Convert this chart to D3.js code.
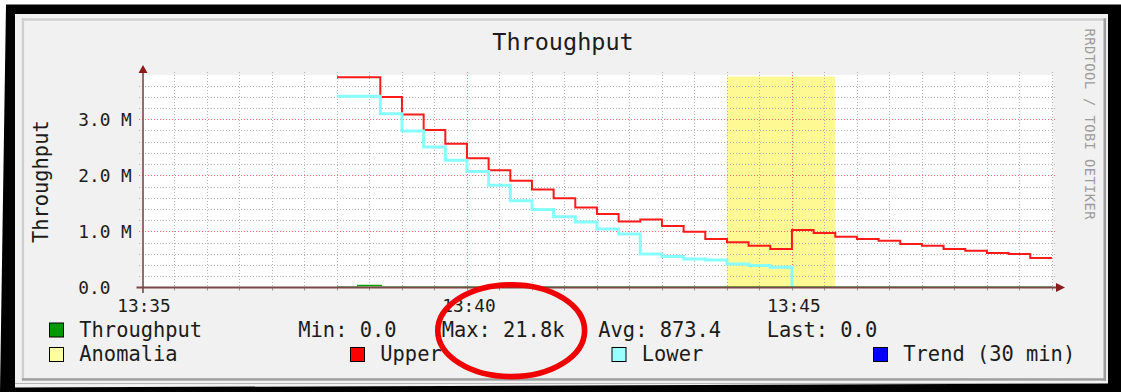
<!DOCTYPE html>
<html><head><meta charset="utf-8">
<script src="https://cdn.jsdelivr.net/npm/d3@7"></script>
<style>
html,body{margin:0;padding:0;background:#fff;}
svg{display:block;}
text{font-family:"DejaVu Sans Mono",monospace;fill:#1c1c1c;}
</style>
</head><body>
<svg id="c" width="1121" height="392"></svg>
<script>
// ---- data ----
const times = ["13:38:00","13:38:20","13:38:40","13:39:00","13:39:20","13:39:40","13:40:00","13:40:20","13:40:40",
  "13:41:00","13:41:20","13:41:40","13:42:00","13:42:20","13:42:40","13:43:00","13:43:20","13:43:40",
  "13:44:00","13:44:20","13:44:40","13:45:00","13:45:20","13:45:40","13:46:00","13:46:20","13:46:40",
  "13:47:00","13:47:20","13:47:40","13:48:00","13:48:20","13:48:40","13:49:00"];
const upper = [3.748e6,3.748e6,3.398e6,3.085e6,2.806e6,2.563e6,2.304e6,2.091e6,1.901e6,
  1.746e6,1.593e6,1.426e6,1.309e6,1.178e6,1.213e6,1.096e6,0.995e6,0.865e6,
  0.805e6,0.746e6,0.687e6,1.025e6,0.972e6,0.906e6,0.865e6,0.835e6,0.776e6,
  0.746e6,0.687e6,0.657e6,0.616e6,0.599e6,0.528e6,0.528e6];
const lower = [3.410e6,3.410e6,3.096e6,2.789e6,2.504e6,2.268e6,2.066e6,1.824e6,1.545e6,
  1.391e6,1.261e6,1.167e6,1.043e6,0.954e6,0.599e6,0.551e6,0.510e6,0.492e6,
  0.421e6,0.391e6,0.361e6,0,null,null,null,null,null,
  null,null,null,null,null,null,null];
const throughput = [0,21800,0,0,0,0,0,0,0,0,0,0,0,0,0,0,0,0,0,0,0,0,0,0,0,0,0,0,0,0,0,0,0,0];
const anomaly = ["13:44:00","13:45:40"];
const xTickLabels = ["13:35","13:40","13:45"];
const yTickValues = [0,1e6,2e6,3e6];
const yTickLabels = ["0.0","1.0 M","2.0 M","3.0 M"];
const legendNames = ["Throughput","Anomalia","Upper","Lower","Trend (30 min)"];
const legendColors = ["#009a00","#ffffa0","#ff0000","#99ffff","#0000ff"];
const statLabels = ["Min:","Max:","Avg:","Last:"];
const statValues = ["0.0","21.8k","873.4","0.0"];
const title = "Throughput";
const yLabel = "Throughput";
const watermark = "RRDTOOL / TOBI OETIKER";

// ---- setup ----
const svg = d3.select("#c");
const pt = d3.timeParse("%H:%M:%S");
const ph = d3.timeParse("%H:%M");
const x = d3.scaleTime().domain([pt("13:35:00"), pt("13:49:01")]).range([142, 1053]);
const y = d3.scaleLinear().domain([0, 3.788e6]).range([287.5, 75]);
const plotL = 142, plotR = 1053, plotT = 75, plotB = 287.5;

svg.append("defs").append("clipPath").attr("id","above").append("rect")
  .attr("x",0).attr("y",0).attr("width",1121).attr("height",286.5);

// black frame (outer white around)
svg.append("path")
  .attr("d","M6,4.5 L1121,4.5 L1121,392 L0,392 Z M15,14 L15,387.5 L1108,383.5 L1108,14 Z")
  .attr("fill","#000").attr("fill-rule","evenodd");
// chart canvas
svg.append("rect").attr("x",15).attr("y",14).attr("width",1093).attr("height",371).attr("fill","#f1f1f1");
svg.append("path").attr("d","M15,383.5 L1108,383.5 L1108,392 L15,392 Z").attr("fill","#000");
svg.append("path").attr("d","M15,383.5 L1108,383.5 L15,387.5 Z").attr("fill","#f1f1f1");
// shade borders
svg.append("rect").attr("x",22).attr("y",18.3).attr("width",1084).attr("height",2.4).attr("fill","#cfcfcf");
svg.append("rect").attr("x",21.7).attr("y",18.3).attr("width",2.4).attr("height",362).attr("fill","#cfcfcf");
svg.append("rect").attr("x",1103.5).attr("y",18.3).attr("width",2.6).attr("height",362.5).attr("fill","#9e9e9e");
svg.append("rect").attr("x",22).attr("y",378.2).attr("width",1084).attr("height",2.5).attr("fill","#9e9e9e");

// plot area
svg.append("rect").attr("x",plotL).attr("y",plotT).attr("width",plotR-plotL).attr("height",plotB-plotT).attr("fill","#fff");

// anomaly band
svg.append("rect")
  .attr("x",x(pt(anomaly[0]))).attr("y",y.range()[1]+1.5)
  .attr("width",x(pt(anomaly[1]))-x(pt(anomaly[0])))
  .attr("height",plotB-plotT-1.5).attr("fill","#fff993");

// grid
const g = svg.append("g");
const minorT = d3.timeSecond.every(30).range(pt("13:35:30"), pt("13:49:01"));
minorT.forEach(t=>{
  const major = t.getSeconds()===0 && t.getMinutes()%5===0;
  const xx = Math.round(x(t))+0.5;
  g.append("line").attr("x1",xx).attr("x2",xx).attr("y1",72).attr("y2",major?290:plotB)
    .attr("stroke",major?"#f07070":"#b4b4b4").attr("stroke-width",1).attr("stroke-dasharray","1,2");
  g.append("line").attr("x1",xx).attr("x2",xx).attr("y1",plotB).attr("y2",plotB+3)
    .attr("stroke","#999").attr("stroke-width",1);
});
d3.range(1,19).forEach(i=>{
  const v = i*0.2e6;
  const major = i%5===0;
  const yy = Math.round(y(v))+0.5;
  g.append("line").attr("x1",139).attr("x2",plotR+2).attr("y1",yy).attr("y2",yy)
    .attr("stroke",major?"#f07070":"#b4b4b4").attr("stroke-width",1).attr("stroke-dasharray","1,2");
});

// series
const pts = vals => times.map((t,i)=>({t:pt(t), v:vals[i]}));
const line = d3.line().defined(d=>d.v!=null).x(d=>x(d.t)).y(d=>y(d.v)).curve(d3.curveStepAfter);
svg.append("path").datum(pts(upper)).attr("d",line).attr("fill","none").attr("stroke","#ff1a1a").attr("stroke-width",2);
svg.append("path").datum(pts(lower)).attr("d",line).attr("fill","none").attr("stroke","#88ffff").attr("stroke-width",3);
svg.append("path").datum(pts(throughput)).attr("d",line).attr("fill","none").attr("stroke","#00a000")
  .attr("stroke-width",3.2).attr("clip-path","url(#above)");

// axes
const axisC = "#7a4848";
svg.append("line").attr("x1",136.5).attr("x2",1058).attr("y1",287.5).attr("y2",287.5).attr("stroke",axisC).attr("stroke-width",1.8);
svg.append("line").attr("x1",143).attr("x2",143).attr("y1",70).attr("y2",293).attr("stroke",axisC).attr("stroke-width",1.6);
svg.append("path").attr("d","M138.5,73 L143,65 L147.5,73 Z").attr("fill","#8b1c1c");
svg.append("path").attr("d","M1056,283 L1065,287.5 L1056,292 Z").attr("fill","#8b1c1c");

// tick labels
yTickValues.forEach((v,i)=>{
  svg.append("text").attr("x",78.3).attr("y",y(v)+6.3).attr("font-size","17.8px").text(yTickLabels[i]);
});
xTickLabels.forEach(s=>{
  svg.append("text").attr("x",x(ph(s))+2).attr("y",312).attr("text-anchor","middle").attr("font-size","17.8px").text(s);
});

// title & y label
svg.append("text").attr("x",563).attr("y",50).attr("text-anchor","middle").attr("font-size","23.5px").text(title);
svg.append("text").attr("transform","translate(48,181.7) rotate(-90)").attr("text-anchor","middle").attr("font-size","20.4px").text(yLabel);
svg.append("text").attr("transform","translate(1084.5,28.5) rotate(90)").attr("font-size","13.8px")
  .attr("textLength",191).attr("lengthAdjust","spacing").style("fill","#9c9c9c").text(watermark);

// legend
const lf = "20.4px";
const box = (bx,by,c)=>svg.append("rect").attr("x",bx).attr("y",by).attr("width",14).attr("height",14)
  .attr("fill",c).attr("stroke","#000").attr("stroke-width",1);
const row1 = 336.5, row2 = 361;
const swatchX = [49.5,49.5,350.5,612,873.5];
const swatchY = [row1-13.5,row2-13.5,row2-13.5,row2-13.5,row2-13.5];
legendNames.forEach((n,i)=>{
  box(swatchX[i],swatchY[i],legendColors[i]);
  svg.append("text").attr("x",swatchX[i]+29.8).attr("y",i===0?row1:row2).attr("font-size",lf).text(n);
});
const statX = [298.3,441.7,598.3,766.7];
statLabels.forEach((l,i)=>{
  svg.append("text").attr("x",statX[i]).attr("y",row1).attr("font-size",lf).style("white-space","pre").text(l+" "+statValues[i]);
});

// annotation ellipse
svg.append("ellipse").attr("cx",511.2).attr("cy",330.7).attr("rx",73.4).attr("ry",45.9)
  .attr("fill","none").attr("stroke","#f00000").attr("stroke-width",5.6);
</script>
</body></html>
